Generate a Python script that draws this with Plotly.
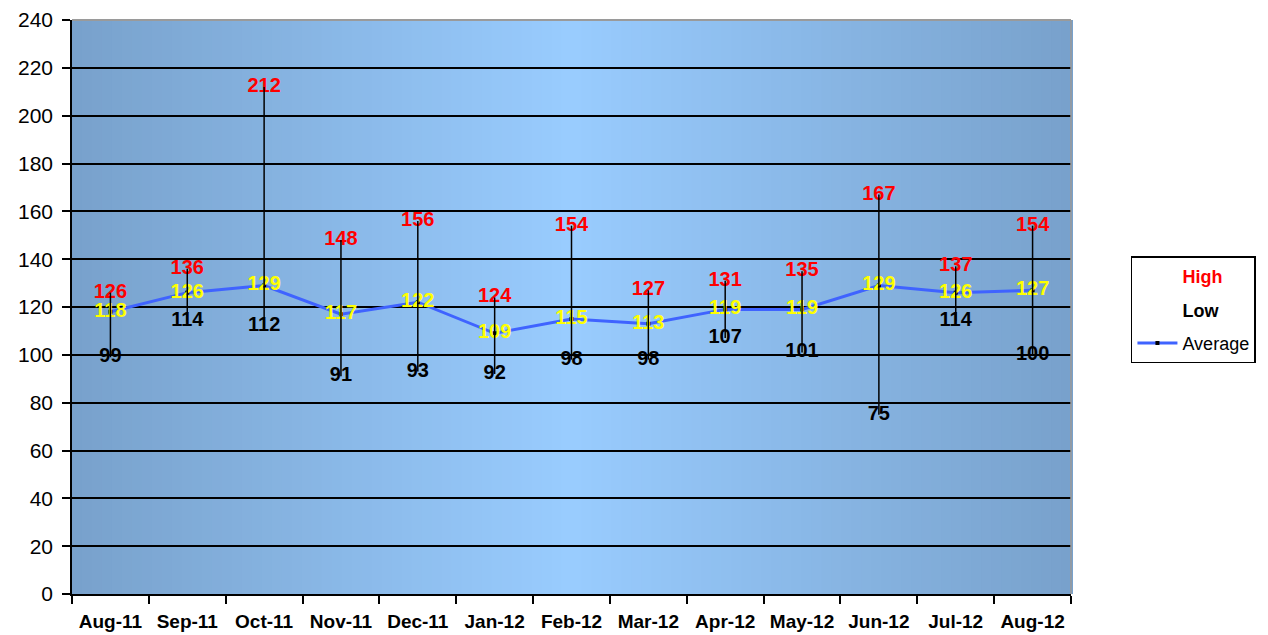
import plotly.graph_objects as go

months = ["Aug-11", "Sep-11", "Oct-11", "Nov-11", "Dec-11", "Jan-12", "Feb-12",
          "Mar-12", "Apr-12", "May-12", "Jun-12", "Jul-12", "Aug-12"]
high = [126, 136, 212, 148, 156, 124, 154, 127, 131, 135, 167, 137, 154]
low = [99, 114, 112, 91, 93, 92, 98, 98, 107, 101, 75, 114, 100]
average = [118, 126, 129, 117, 122, 109, 115, 113, 119, 119, 129, 126, 127]
y_ticks = list(range(0, 241, 20))

FONT = "Liberation Sans, Arial, sans-serif"

fig = go.Figure()

# average line
fig.add_trace(go.Scatter(x=months, y=average, mode="lines+markers",
                         line=dict(color="#3f63ff", width=3),
                         marker=dict(color="black", size=4, symbol="square"),
                         showlegend=False))

# labels
fig.add_trace(go.Scatter(x=months, y=low, mode="text", text=[str(v) for v in low],
                         textposition="middle center",
                         textfont=dict(color="black", size=20, family=FONT, weight="bold"),
                         showlegend=False, hoverinfo="skip"))
fig.add_trace(go.Scatter(x=months, y=high, mode="text", text=[str(v) for v in high],
                         textposition="middle center",
                         textfont=dict(color="#ff0000", size=20, family=FONT, weight="bold"),
                         showlegend=False, hoverinfo="skip"))
fig.add_trace(go.Scatter(x=months, y=average, mode="text", text=[str(v) for v in average],
                         textposition="middle center",
                         textfont=dict(color="#ffff00", size=20, family=FONT, weight="bold"),
                         showlegend=False, hoverinfo="skip"))

# high-low vertical lines (drawn on top, as in the reference)
hl_x, hl_y = [], []
for m, lo, hi in zip(months, low, high):
    hl_x += [m, m, None]
    hl_y += [lo, hi, None]
fig.add_trace(go.Scatter(x=hl_x, y=hl_y, mode="lines",
                         line=dict(color="black", width=1.5),
                         showlegend=False, hoverinfo="skip"))

# legend entries
fig.add_trace(go.Scatter(x=[None], y=[None], mode="markers",
                         marker=dict(size=1, color="rgba(0,0,0,0)"),
                         name="<span style='color:#ff0000'><b>High</b></span>",
                         legendgroup="g1"))
fig.add_trace(go.Scatter(x=[None], y=[None], mode="markers",
                         marker=dict(size=1, color="rgba(0,0,0,0)"),
                         name="<b>Low</b>", legendgroup="g2"))
fig.add_trace(go.Scatter(x=[None], y=[None], mode="lines+markers",
                         line=dict(color="#3f63ff", width=3),
                         marker=dict(color="black", size=4, symbol="square"),
                         name="Average", legendgroup="g3"))

# gradient background strips
shapes = []
N = 100
edge = (120, 161, 203)
center = (153, 204, 255)
for i in range(N):
    x0 = i / N
    x1 = (i + 1) / N
    t = abs((x0 + x1) / 2 - 0.5) * 2
    c = tuple(round(center[k] + (edge[k] - center[k]) * t) for k in range(3))
    shapes.append(dict(type="rect", xref="paper", yref="paper", x0=x0, x1=x1 + 0.002,
                       y0=0, y1=1, fillcolor="rgb(%d,%d,%d)" % c,
                       line=dict(width=0), layer="below"))
shapes.append(dict(type="line", xref="paper", yref="paper", x0=0, x1=1, y0=1, y1=1,
                   line=dict(color="#9a9a9a", width=2), layer="above"))
shapes.append(dict(type="line", xref="paper", yref="paper", x0=1, x1=1, y0=0, y1=1,
                   line=dict(color="#9a9a9a", width=1.5), layer="above"))

fig.update_layout(
    width=1268, height=635,
    margin=dict(l=64, r=205, t=12, b=49),
    paper_bgcolor="white",
    plot_bgcolor="#99ccff",
    font=dict(family=FONT, color="black"),
    shapes=shapes,
    showlegend=True,
    legend=dict(x=1.06, y=0.588, xanchor="left", yanchor="top",
                bgcolor="white", bordercolor="black", borderwidth=1.5,
                font=dict(size=18, family=FONT, color="black"),
                traceorder="grouped", tracegroupgap=7, itemwidth=40),
    xaxis=dict(type="category", categoryorder="array", categoryarray=months,
               range=[-0.5, 12.5], showgrid=False, showline=True,
               linecolor="black", linewidth=1.5, ticks="outside", tickson="boundaries",
               ticklen=8, tickwidth=1.5, tickcolor="black", tickangle=0,
               tickfont=dict(size=19, family=FONT, color="black", weight="bold"),
               ticklabelstandoff=9, automargin=False, fixedrange=True),
    yaxis=dict(range=[0, 240], tickvals=y_ticks, showgrid=True, gridcolor="black",
               gridwidth=1.5, showline=True, linecolor="black", linewidth=1.5,
               ticks="outside", ticklen=8, tickwidth=1.5, tickcolor="black",
               tickfont=dict(size=21, family=FONT, color="black"),
               ticklabeloverflow="allow",
               zeroline=False, ticklabelstandoff=5, automargin=False, fixedrange=True),
)

fig.write_html("out.html")
